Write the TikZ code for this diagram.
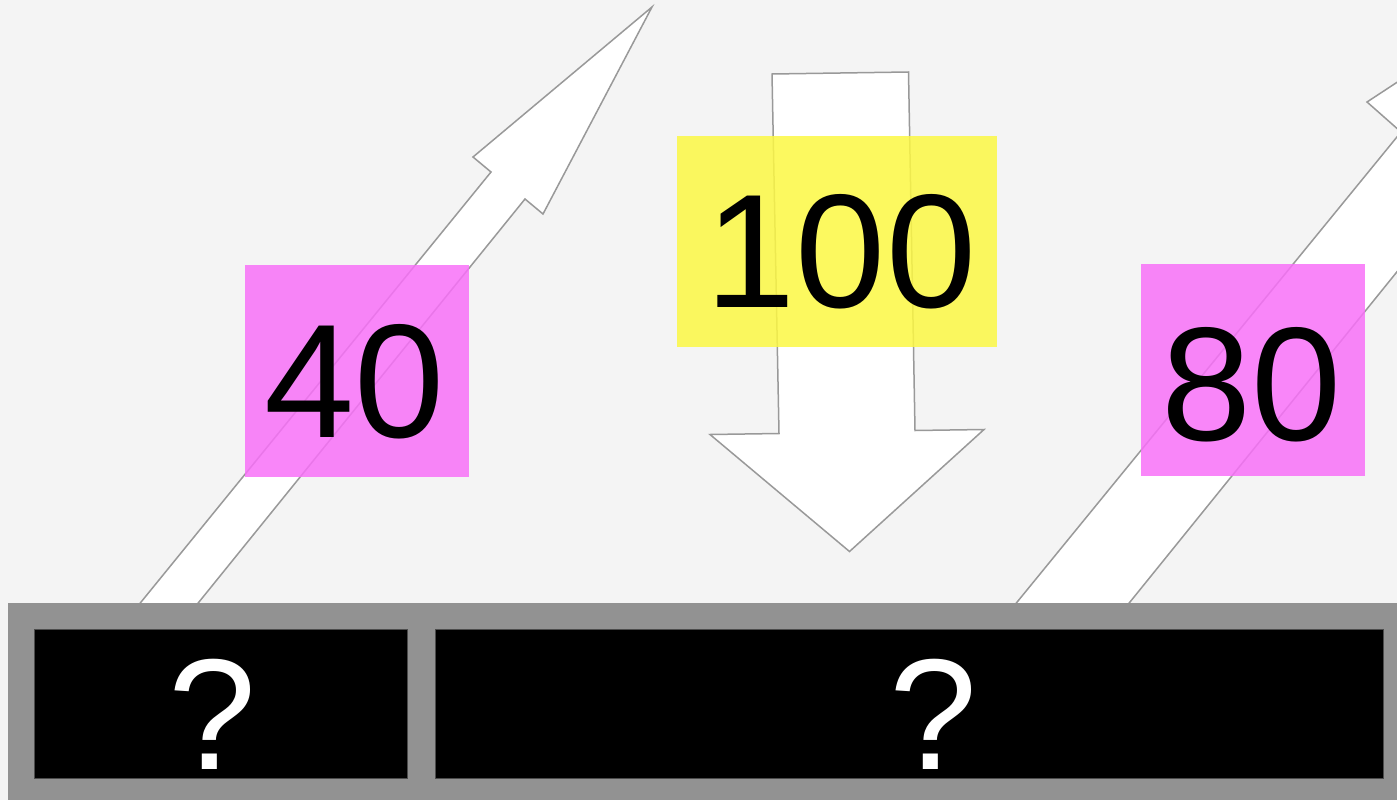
\documentclass[tikz,border=0pt]{standalone}
\usepackage{fontspec}
\setmainfont{Liberation Sans}
\definecolor{bgc}{RGB}{244,244,244}
\definecolor{edgec}{RGB}{153,153,153}
\definecolor{barc}{RGB}{146,146,146}
\definecolor{magc}{RGB}{248,113,248}
\definecolor{yelc}{RGB}{252,248,68}
\tikzset{
  bigarrow/.style={fill=white, draw=edgec, line width=1.5pt, line join=miter},
  tag/.style={fill opacity=0.85, draw=none},
  num/.style={anchor=base, inner sep=0pt, font=\fontsize{162}{166}\selectfont},
  qmark/.style={anchor=base, inner sep=0pt, text=white, font=\fontsize{158}{160}\selectfont},
}
\begin{document}
\begin{tikzpicture}[x=1pt,y=-1pt]
\useasboundingbox (0,0) rectangle (1397,800);
\fill[bgc] (0,0) rectangle (1397,800);
\begin{scope}
\clip (0,0) rectangle (1397,800);
% left arrow
\draw[bigarrow] (124,623) -- (491,172) -- (473,157) -- (652,7) -- (543,214) -- (525,199) -- (182,623) -- cycle;
% down arrow
\draw[bigarrow] (772,74) -- (908.5,72) -- (915,430.5) -- (984,429.5) -- (849.5,551.5) -- (710,434.5) -- (779,433.5) -- cycle;
% right arrow
\draw[bigarrow] (1000,623) -- (1401,132) -- (1367,102) -- (1530,-5) -- (1475,215) -- (1455,200) -- (1113,623) -- cycle;
\end{scope}
% tags
\fill[tag, yelc] (677,136) rectangle (997,347);
\fill[tag, magc] (245,265) rectangle (469,477);
\fill[tag, magc] (1141,264) rectangle (1365,476);
\node[num] (n40) at (355,437) {40};
\node[num] (n100) at (841,307) {100};
\node[num] (n80) at (1252,440) {80};
% bottom bar
\fill[barc] (8,603) rectangle (1397,800);
\fill[black, draw=black!70!white, line width=0.8pt] (34,629) rectangle (407,778);
\fill[black, draw=black!70!white, line width=0.8pt] (435,629) rectangle (1383,778);
\node[qmark] (q1) at (212,769) {?};
\node[qmark] (q2) at (933,769) {?};
\end{tikzpicture}
\end{document}
